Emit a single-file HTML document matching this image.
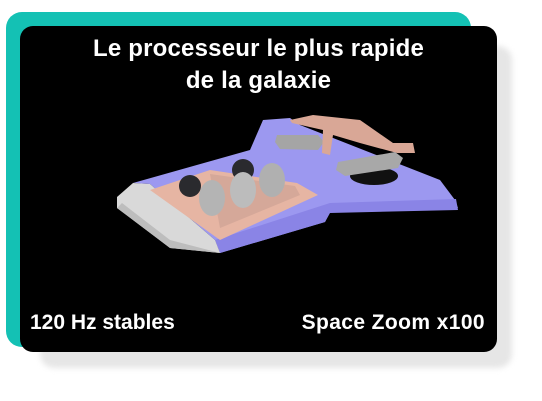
<!DOCTYPE html>
<html><head><meta charset="utf-8"><style>
html,body{margin:0;padding:0;background:#fff;width:542px;height:401px;overflow:hidden;font-family:"Liberation Sans",sans-serif}
.abs{position:absolute}
</style></head><body>
<div class="abs" style="left:40px;top:46px;width:472px;height:322px;background:#e6e6e6;border-radius:14px;filter:blur(3px)"></div>
<div class="abs" style="left:6px;top:12px;width:465px;height:335px;background:#14c1b4;border-radius:16px"></div>
<div class="abs" style="left:20px;top:26px;width:477px;height:326px;background:#000;border-radius:13px;overflow:hidden">
<div class="abs" style="left:0;top:7px;width:477px;text-align:center;color:#fff;font-size:24px;font-weight:bold;line-height:32px;letter-spacing:0.2px">Le processeur le plus rapide<br>de la galaxie</div>
<svg class="abs" style="left:-20px;top:-26px" width="542" height="401">
<polygon points="133,183 250,150 263,120 290,118 300,125 440,180 455,200 458,208 330,212 325,222 220,253 215,240 150,184" fill="#9c98f0"/>
<polygon points="215,240 330,203 456,199 458,210 330,213 325,222 220,253" fill="#8a84e6"/>
<ellipse cx="374" cy="176" rx="24" ry="9" fill="#111"/>
<polygon points="133,183 150,184 215,240 220,253 170,248 117,208 117,197" fill="#d9d9d9"/>
<polygon points="117,208 170,248 220,253 170,240 122,203" fill="#bdbdbd"/>
<polygon points="150,190 210,170 297,183 318,195 220,240" fill="#e6b5a3"/>
<polygon points="210,174 295,186 300,195 220,228" fill="#d5a899"/>
<circle cx="190" cy="186" r="11" fill="#2a2a2e"/>
<circle cx="243" cy="170" r="11" fill="#2a2a2e"/>
<ellipse cx="212" cy="198" rx="13" ry="18" fill="#b4b4b4"/>
<ellipse cx="243" cy="190" rx="13" ry="18" fill="#bcbcbc"/>
<ellipse cx="272" cy="180" rx="13" ry="17" fill="#b0b0b0"/>
<polygon points="277,135 318,135 324,142 318,150 280,149 275,142" fill="#a5a5a5"/>
<polygon points="290,120 313,115 360,120 393,143 413,143 415,153 397,153 360,143 333,135 330,155 322,153 323,130 292,123" fill="#d9a796"/>
<polygon points="338,162 395,152 403,158 398,168 345,176 336,170" fill="#a8a8a8"/>
</svg>
<div class="abs" style="left:10px;top:285px;color:#fff;font-size:21px;font-weight:bold">120 Hz stables</div>
<div class="abs" style="right:12px;top:285px;color:#fff;font-size:21px;font-weight:bold;letter-spacing:0.4px">Space Zoom x100</div>
</div>
</body></html>
